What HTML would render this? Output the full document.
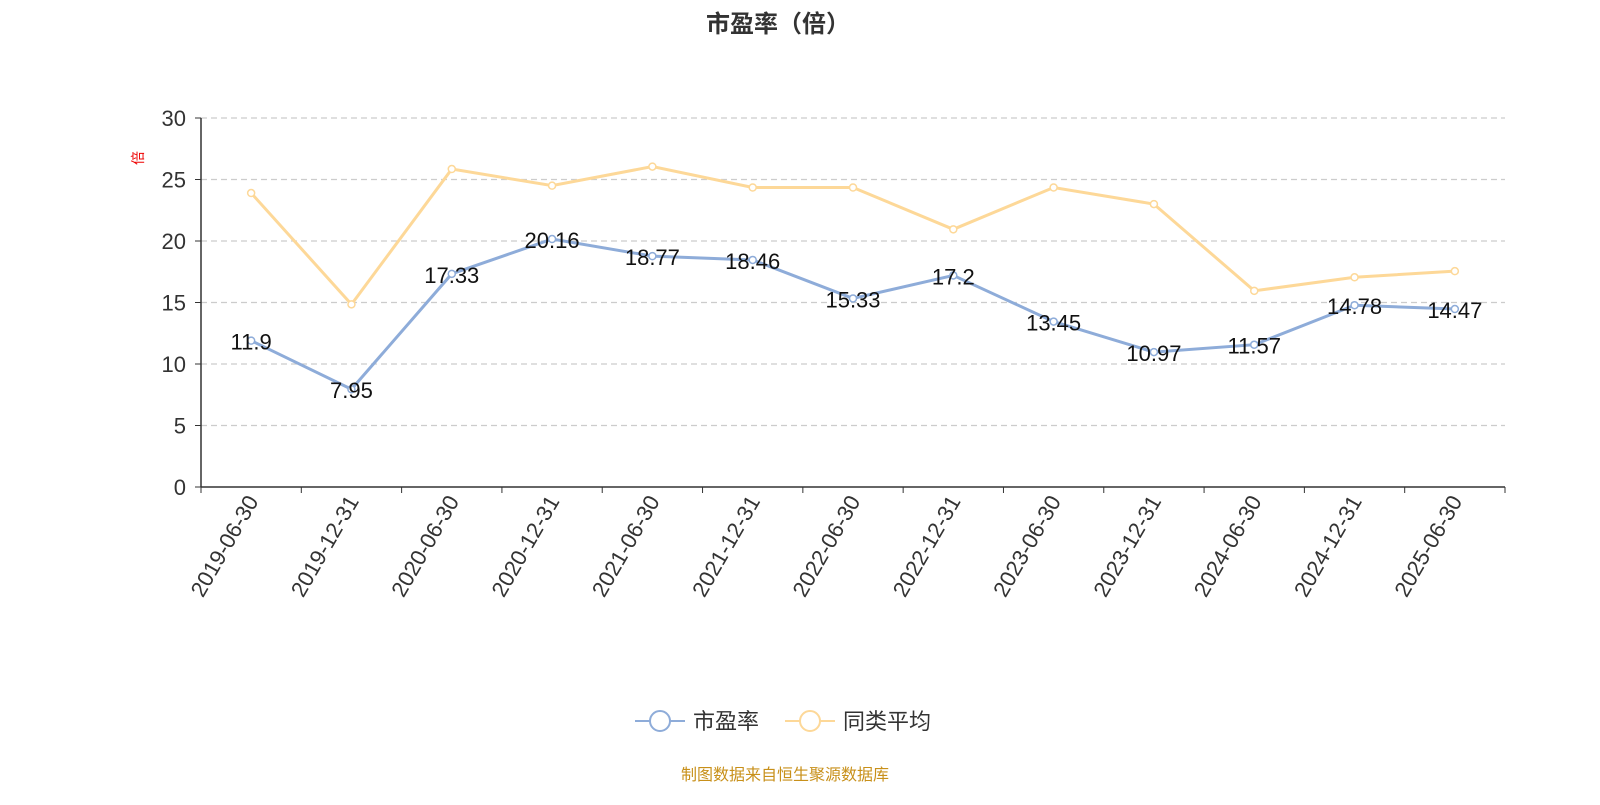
<!DOCTYPE html>
<html><head><meta charset="utf-8"><style>
body{margin:0;background:#fff;font-family:"Liberation Sans","Noto Sans CJK SC",sans-serif;}
</style></head><body>
<svg id="chart" width="1600" height="800" xmlns="http://www.w3.org/2000/svg" style="font-family:'Liberation Sans','Noto Sans CJK SC',sans-serif">
<text x="778" y="32" text-anchor="middle" font-size="24" font-weight="bold" fill="#333">市盈率（倍）</text>
<text x="143" y="158" font-size="14" fill="#e00" transform="rotate(-90 143 158)" text-anchor="middle">倍</text>
<g id="grid"></g><g id="axes"></g><g id="series"></g>
<g>
<g>
<line x1="635" y1="721" x2="685" y2="721" stroke="#8eacd9" stroke-width="2"/>
<circle cx="660" cy="721" r="10" fill="#fff" stroke="#8eacd9" stroke-width="2"/>
<text x="693" y="729" font-size="22" fill="#333">市盈率</text></g>
<g>
<line x1="785" y1="721" x2="835" y2="721" stroke="#fdd898" stroke-width="2"/>
<circle cx="810" cy="721" r="10" fill="#fff" stroke="#fdd898" stroke-width="2"/>
<text x="843" y="729" font-size="22" fill="#333">同类平均</text></g>
</g>
<text x="785" y="780" text-anchor="middle" font-size="16" fill="#c8901a">制图数据来自恒生聚源数据库</text>
</svg>
<script>
const categories=["2019-06-30","2019-12-31","2020-06-30","2020-12-31","2021-06-30","2021-12-31","2022-06-30","2022-12-31","2023-06-30","2023-12-31","2024-06-30","2024-12-31","2025-06-30"];
const peValues=[11.9,7.95,17.33,20.16,18.77,18.46,15.33,17.2,13.45,10.97,11.57,14.78,14.47];
const peerValues=[23.9,14.85,25.85,24.5,26.05,24.35,24.35,20.95,24.35,23.0,15.95,17.05,17.55];
const yTicks=[0,5,10,15,20,25,30];
const NS="http://www.w3.org/2000/svg";
const x0=201,x1=1505,yb=487,yt=118,yMax=30;
const bw=(x1-x0)/categories.length;
const xs=i=>x0+bw*(i+0.5);
const ys=v=>yb-(v/yMax)*(yb-yt);
function mk(tag,attrs,parent,txt){const e=document.createElementNS(NS,tag);for(const k in attrs)e.setAttribute(k,attrs[k]);if(txt!==undefined)e.textContent=txt;parent.appendChild(e);return e;}
const grid=document.getElementById('grid'),axes=document.getElementById('axes'),ser=document.getElementById('series');
yTicks.forEach(t=>{
 if(t>0){const l=mk('line',{x1:x0,x2:x1,y1:ys(t),y2:ys(t),stroke:'#ccc','stroke-dasharray':'6,4','stroke-width':1.3},grid);
 
 }
 const tx=mk('text',{x:186,y:ys(t)+8,'text-anchor':'end','font-size':22,fill:'#333'},axes,t);
 
 
 mk('line',{x1:195,x2:x0,y1:ys(t),y2:ys(t),stroke:'#333'},axes);
});
const ya=mk('line',{x1:x0,x2:x0,y1:yt,y2:yb,stroke:'#333','stroke-width':1.5},axes);


const xa=mk('line',{x1:x0,x2:x1,y1:yb,y2:yb,stroke:'#333','stroke-width':1.5},axes);


for(let i=0;i<=categories.length;i++){mk('line',{x1:x0+bw*i,x2:x0+bw*i,y1:yb,y2:yb+6,stroke:'#333'},axes);}
categories.forEach((c,i)=>{
 const x=xs(i)+8,y=yb+14;
 const t=mk('text',{x:x,y:y,'text-anchor':'end','font-size':22,fill:'#333',transform:`rotate(-60 ${x} ${y})`},axes,c);
 
 
});
function series(vals,color,name,labels){
 const p=mk('polyline',{points:vals.map((v,i)=>xs(i)+','+ys(v)).join(' '),fill:'none',stroke:color,'stroke-width':3},ser);
 
 
 vals.forEach((v,i)=>{
  const c=mk('circle',{cx:xs(i),cy:ys(v),r:3.5,fill:'#fff',stroke:color,'stroke-width':1.5},ser);
  
  
  if(labels){const t=mk('text',{x:xs(i),y:ys(v)+9,'text-anchor':'middle','font-size':22,fill:'#111'},ser,v);
  
  }
 });
}
series(peerValues,'#fdd898','peer-average',false);
series(peValues,'#8eacd9','pe',true);
</script>
</body></html>
